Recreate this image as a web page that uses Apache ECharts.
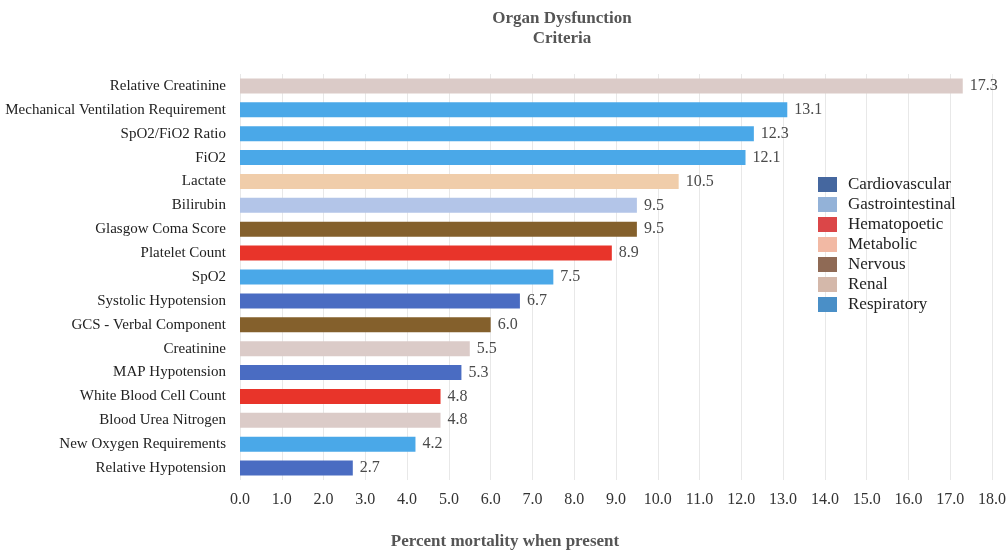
<!DOCTYPE html>
<html>
<head>
<meta charset="utf-8">
<title>Organ Dysfunction Criteria</title>
<script src="https://cdn.jsdelivr.net/npm/echarts@6/dist/echarts.min.js"></script>
<style>
  html, body { margin: 0; padding: 0; background: #ffffff; }
  #chart { width: 1006px; height: 550px; }
</style>
</head>
<body>
<div id="chart"></div>
<script>
// Criteria listed top to bottom, with percent mortality and organ system
const criteria = [
  'Relative Creatinine',
  'Mechanical Ventilation Requirement',
  'SpO2/FiO2 Ratio',
  'FiO2',
  'Lactate',
  'Bilirubin',
  'Glasgow Coma Score',
  'Platelet Count',
  'SpO2',
  'Systolic Hypotension',
  'GCS - Verbal Component',
  'Creatinine',
  'MAP Hypotension',
  'White Blood Cell Count',
  'Blood Urea Nitrogen',
  'New Oxygen Requirements',
  'Relative Hypotension'
];
const mortality = [17.3, 13.1, 12.3, 12.1, 10.5, 9.5, 9.5, 8.9, 7.5, 6.7, 6.0, 5.5, 5.3, 4.8, 4.8, 4.2, 2.7];
const systemOf = [
  'Renal', 'Respiratory', 'Respiratory', 'Respiratory', 'Metabolic',
  'Gastrointestinal', 'Nervous', 'Hematopoetic', 'Respiratory', 'Cardiovascular',
  'Nervous', 'Renal', 'Cardiovascular', 'Hematopoetic', 'Renal',
  'Respiratory', 'Cardiovascular'
];
const systems = ['Cardiovascular', 'Gastrointestinal', 'Hematopoetic', 'Metabolic', 'Nervous', 'Renal', 'Respiratory'];
const xTicks = [0, 1, 2, 3, 4, 5, 6, 7, 8, 9, 10, 11, 12, 13, 14, 15, 16, 17, 18];

// Bar fill per system, and the swatch shade shown in the legend
const barColors = {
  Cardiovascular: '#4a6cc2',
  Gastrointestinal: '#b3c5e8',
  Hematopoetic: '#e8342a',
  Metabolic: '#f0cdaa',
  Nervous: '#84602c',
  Renal: '#dbcbc8',
  Respiratory: '#4aa8e8'
};
const legendColors = {
  Cardiovascular: '#45679f',
  Gastrointestinal: '#93b2d8',
  Hematopoetic: '#db4648',
  Metabolic: '#f2b9a4',
  Nervous: '#8f6a55',
  Renal: '#d4b8aa',
  Respiratory: '#4a8fc7'
};

const serif = '"Liberation Serif", "Times New Roman", serif';

const series = systems.map(sys => ({
  name: sys,
  type: 'bar',
  stack: 'all',
  barWidth: 15,
  itemStyle: { color: barColors[sys] },
  label: {
    show: true,
    position: 'right',
    distance: 7,
    color: '#4a4a4a',
    fontFamily: serif,
    fontSize: 16,
    formatter: p => Number(p.value).toFixed(1)
  },
  data: mortality.map((v, i) => (systemOf[i] === sys ? v : null))
}));

const chart = echarts.init(document.getElementById('chart'));
chart.setOption({
  animation: false,
  backgroundColor: '#ffffff',
  title: {
    text: 'Organ Dysfunction\nCriteria',
    left: 557,
    top: 4,
    textAlign: 'center',
    textStyle: {
      fontFamily: serif,
      fontSize: 17,
      fontWeight: 'bold',
      color: '#555555',
      lineHeight: 20
    }
  },
  legend: {
    orient: 'vertical',
    left: 818,
    top: 176,
    padding: 0,
    itemWidth: 19,
    itemHeight: 15,
    itemGap: 3,
    icon: 'rect',
    textStyle: {
      fontFamily: serif,
      fontSize: 17,
      lineHeight: 17,
      color: '#222222',
      padding: [0, 0, 0, 6]
    },
    data: systems.map(sys => ({ name: sys, itemStyle: { color: legendColors[sys] } }))
  },
  grid: {
    left: 240,
    right: 14,
    top: 74,
    bottom: 70,
    containLabel: false,
    outerBoundsMode: 'none'
  },
  xAxis: {
    type: 'value',
    min: xTicks[0],
    max: xTicks[xTicks.length - 1],
    interval: 1,
    axisLine: { show: false },
    axisTick: { show: false },
    splitLine: { show: true, lineStyle: { color: '#e8e8e8', width: 1 } },
    axisLabel: {
      margin: 12,
      fontFamily: serif,
      fontSize: 16,
      color: '#333333',
      formatter: v => v.toFixed(1)
    },
    name: 'Percent mortality when present',
    nameLocation: 'middle',
    nameGap: 53,
    nameTextStyle: {
      fontFamily: serif,
      fontSize: 17,
      fontWeight: 'bold',
      color: '#555555',
      padding: [0, 222, 0, 0]
    }
  },
  yAxis: {
    type: 'category',
    inverse: true,
    data: criteria,
    axisLine: { show: false },
    axisTick: { show: false },
    axisLabel: {
      margin: 14,
      fontFamily: serif,
      fontSize: 15,
      color: '#222222'
    }
  },
  series: series
});
</script>
</body>
</html>
